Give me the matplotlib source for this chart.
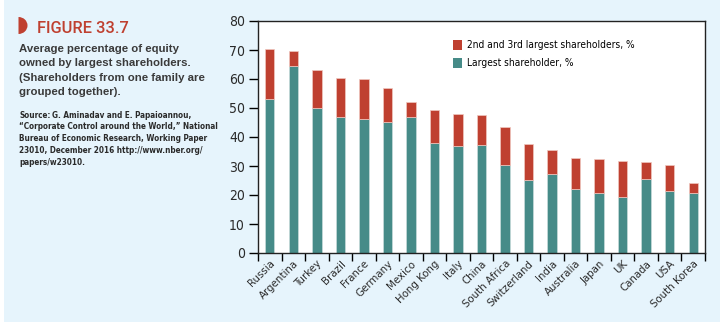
import numpy as np
import matplotlib.pyplot as plt
from matplotlib import font_manager as fm
from matplotlib import transforms
from matplotlib.patches import Rectangle, Wedge

# %%
countries = ['Russia', 'Argentina', 'Turkey', 'Brazil', 'France', 'Germany',
             'Mexico', 'Hong Kong', 'Italy', 'China', 'South Africa',
             'Switzerland', 'India', 'Australia', 'Japan', 'UK', 'Canada',
             'USA', 'South Korea']
largest = [53.0, 64.6, 50.0, 46.9, 46.2, 45.3, 46.8, 37.8, 36.9, 37.1, 30.2,
           25.1, 27.2, 22.1, 20.7, 19.4, 25.4, 21.3, 20.8]
total = [70.4, 69.7, 63.2, 60.3, 60.1, 56.8, 52.0, 49.2, 47.8, 47.5, 43.6,
         37.5, 35.5, 32.9, 32.4, 31.8, 31.5, 30.4, 24.0]
second_third = [t - l for t, l in zip(total, largest)]

red = '#bf4030'
teal = '#468b88'
bg = '#e6f4fc'
dark = '#2a2a2a'


# %%
def find_font(weight_bold):
    # look for an installed narrow / condensed sans face
    best = None
    for f in fm.fontManager.ttflist:
        name = (f.name + ' ' + f.fname).lower()
        narrow = 'narrow' in name or 'condensed' in name or \
            f.stretch in ('condensed', 'semi-condensed', 500 - 125)
        if not narrow or 'mono' in name or 'serif' in f.name.lower():
            continue
        if 'italic' in f.fname.lower() or 'oblique' in f.fname.lower():
            continue
        w = f.weight if isinstance(f.weight, int) else \
            {'bold': 700, 'normal': 400, 'regular': 400}.get(f.weight, 400)
        score = abs(w - (700 if weight_bold else 400))
        if best is None or score < best[0]:
            best = (score, f.fname)
    if best is None:
        return None
    return best[1]


narrow_reg = find_font(False)
narrow_bold = find_font(True)


def nfont(size, bold=False):
    path = narrow_bold if bold else narrow_reg
    if path:
        return fm.FontProperties(fname=path, size=size)
    return fm.FontProperties(family='Liberation Sans', size=size * 0.85,
                             weight='bold' if bold else 'normal')


# %%
fig = plt.figure(figsize=(7.25, 3.3), dpi=100)
fig.patch.set_facecolor('white')
fig.patches.append(Rectangle((4 / 725, 8 / 330), 716 / 725, 322 / 330,
                             transform=fig.transFigure, facecolor=bg,
                             edgecolor='none', zorder=-10))
# half-disc marker in front of the figure number
d_trans = transforms.Affine2D().scale(0.09, 0.085).translate(
    0.185, (330 - 25.5) / 100) + fig.dpi_scale_trans
fig.patches.append(Wedge((0, 0), 1, -90, 90, transform=d_trans,
                         facecolor=red, edgecolor='none'))

fig.text(37 / 725, 1 - 33 / 330, 'FIGURE 33.7', color=red, fontsize=11.8,
         fontfamily=['Roboto', 'Liberation Sans'], fontweight='medium',
         va='baseline')

body = ['Average percentage of equity', 'owned by largest shareholders.',
        '(Shareholders from one family are', 'grouped together).']
for i, line in enumerate(body):
    fig.text(19 / 725, 1 - (52 + 14.3 * i) / 330, line, color='#3a3a3a',
             fontsize=8.2, fontweight='bold',
             fontfamily=['Liberation Sans', 'DejaVu Sans'], va='baseline')

source = ['“Corporate Control around the World,” National',
          'Bureau of Economic Research, Working Paper',
          '23010, December 2016 http://www.nber.org/',
          'papers/w23010.']
y0 = 117.5
src_font = nfont(5.9, bold=True)
t = fig.text(19 / 725, 1 - y0 / 330, 'Source:', color=dark,
             fontproperties=src_font, fontstyle='italic', va='baseline')
fig.canvas.draw()
bb = t.get_window_extent()
fig.text((bb.x1 + 2) / 725, 1 - y0 / 330,
         'G. Aminadav and E. Papaioannou,', color=dark,
         fontproperties=src_font, va='baseline')
for i, line in enumerate(source):
    fig.text(19 / 725, 1 - (y0 + 11.9 * (i + 1)) / 330, line,
             color=dark, fontproperties=src_font, va='baseline')

# %%
ax = fig.add_axes([258 / 725, 77 / 330, 447 / 725, 232 / 330])
ax.set_facecolor('white')
x = np.arange(len(countries))
ax.bar(x, largest, width=0.4, color=teal, edgecolor='#c8dcdb', linewidth=0.5,
       label='Largest shareholder, %')
ax.bar(x, second_third, bottom=largest, width=0.4, color=red,
       edgecolor='#f0c8c0', linewidth=0.5,
       label='2nd and 3rd largest shareholders, %')

ax.set_xlim(-0.5, len(countries) - 0.5)
ax.set_ylim(0, 80)
ax.set_yticks(range(0, 81, 10))
ax.set_xticks(np.arange(-0.5, len(countries), 1))
ax.set_xticklabels([])
ax.set_xticks(x, minor=True)
ax.set_xticklabels(countries, minor=True, rotation=45, ha='right',
                   rotation_mode='anchor', fontproperties=nfont(8.2),
                   color=dark)
ax.tick_params(axis='x', which='major', length=6, width=1, direction='out')
ax.tick_params(axis='x', which='minor', length=0, pad=4)
ax.tick_params(axis='y', length=6.5, width=1, labelcolor=dark, pad=3)
for lbl in ax.get_yticklabels():
    lbl.set_fontproperties(nfont(10))
for s in ax.spines.values():
    s.set_linewidth(1)
    s.set_color('#222222')

h, l = ax.get_legend_handles_labels()
leg = ax.legend(h[::-1], l[::-1], loc='upper left',
                bbox_to_anchor=(448 / 725, 1 - 35 / 330),
                bbox_transform=fig.transFigure, frameon=False,
                handlelength=0.85, handleheight=1.1, handletextpad=0.5,
                labelspacing=0.75, borderpad=0, prop=nfont(7.3))
for p in leg.get_patches():
    p.set_edgecolor('none')

fig.savefig('out.png', dpi=100, facecolor=fig.get_facecolor())
